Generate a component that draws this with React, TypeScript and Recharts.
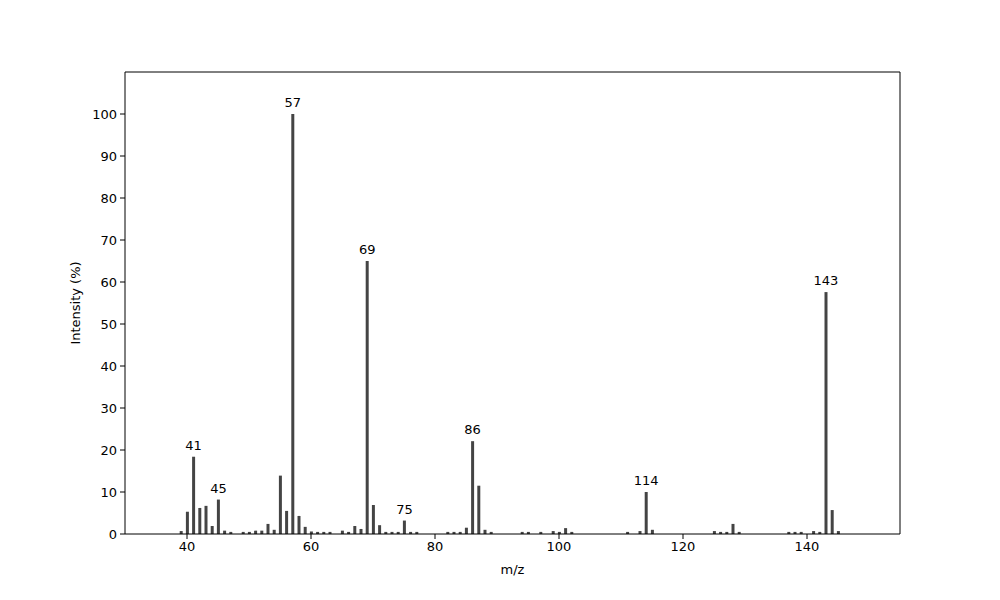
import React from "react";
import {
  ComposedChart,
  Bar,
  XAxis,
  YAxis,
  ReferenceLine,
  LabelList,
} from "recharts";

const mzValues = [
  39, 40, 41, 42, 43, 44, 45, 46, 47, 49, 50, 51, 52, 53, 54, 55, 56, 57, 58, 59,
  60, 61, 62, 63, 65, 66, 67, 68, 69, 70, 71, 72, 73, 74, 75, 76, 77, 82, 83, 84,
  85, 86, 87, 88, 89, 94, 95, 97, 99, 100, 101, 102, 111, 113, 114, 115, 125, 126,
  127, 128, 129, 137, 138, 139, 141, 142, 143, 144, 145,
];

const intensities = [
  0.7, 5.3, 18.4, 6.2, 6.7, 1.9, 8.2, 0.8, 0.5, 0.5, 0.5, 0.8, 0.8, 2.4, 1.0, 13.9,
  5.5, 100, 4.3, 1.7, 0.6, 0.5, 0.5, 0.5, 0.8, 0.5, 1.9, 1.2, 65, 6.9, 2.1, 0.5,
  0.5, 0.5, 3.2, 0.5, 0.5, 0.5, 0.5, 0.5, 1.5, 22.1, 11.5, 1.0, 0.5, 0.5, 0.5, 0.5,
  0.7, 0.5, 1.4, 0.5, 0.5, 0.7, 10.0, 1.0, 0.7, 0.5, 0.5, 2.4, 0.5, 0.5, 0.5, 0.5,
  0.7, 0.5, 57.6, 5.7, 0.7,
];

const labeledPeaks = [41, 45, 57, 69, 75, 86, 114, 143];

const xTicks = [40, 60, 80, 100, 120, 140];
const yTicks = [0, 10, 20, 30, 40, 50, 60, 70, 80, 90, 100];

const data = mzValues.map((mz, i) => ({
  mz,
  intensity: intensities[i],
  label: labeledPeaks.includes(mz) ? String(mz) : "",
}));

const FONT = "DejaVu Sans, sans-serif";

const PeakLabel = (props: any) => {
  const { x, y, width, value } = props;
  if (!value) return null;
  return (
    <text
      x={x + width / 2}
      y={y - 7}
      textAnchor="middle"
      fontFamily={FONT}
      fontSize={13}
      fill="#000"
    >
      {value}
    </text>
  );
};

export default function App() {
  return (
    <div style={{ position: "absolute", left: 0, top: 0, background: "#fff" }}>
      <ComposedChart
        width={1000}
        height={600}
        data={data}
        margin={{ top: 72, right: 100, bottom: 16, left: 65 }}
      >
        <XAxis
          dataKey="mz"
          type="number"
          domain={[30, 155]}
          ticks={xTicks}
          allowDataOverflow
          height={50}
          stroke="#000"
          tickSize={5}
          tickMargin={3}
          tick={{ fill: "#000", fontSize: 13, fontFamily: FONT }}
          label={{
            value: "m/z",
            position: "insideBottom",
            offset: 10,
            fill: "#000",
            fontSize: 13,
            fontFamily: FONT,
          }}
        />
        <YAxis
          type="number"
          domain={[0, 110]}
          ticks={yTicks}
          allowDataOverflow
          width={60}
          stroke="#000"
          tickSize={5}
          tickMargin={3}
          tick={{ fill: "#000", fontSize: 13, fontFamily: FONT }}
          label={{
            value: "Intensity (%)",
            angle: -90,
            position: "insideLeft",
            offset: 10,
            style: { textAnchor: "middle" },
            fill: "#000",
            fontSize: 13,
            fontFamily: FONT,
          }}
        />
        <ReferenceLine y={110} stroke="#000" strokeWidth={1} />
        <ReferenceLine x={155} stroke="#000" strokeWidth={1} />
        <Bar
          dataKey="intensity"
          fill="#444444"
          barSize={3}
          isAnimationActive={false}
        >
          <LabelList dataKey="label" content={<PeakLabel />} />
        </Bar>
      </ComposedChart>
    </div>
  );
}
